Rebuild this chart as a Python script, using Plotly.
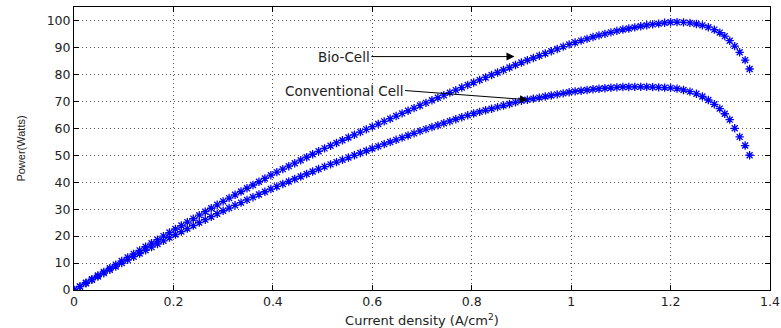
import plotly.graph_objects as go

# Current density (A/cm^2) sample points, shared by both series
current_density = [
    0.000, 0.012, 0.024, 0.036, 0.048, 0.060, 0.072, 0.084, 0.096, 0.108,
    0.120, 0.132, 0.144, 0.156, 0.168, 0.180, 0.192, 0.204, 0.216, 0.228,
    0.240, 0.252, 0.264, 0.276, 0.288, 0.300, 0.312, 0.324, 0.336, 0.348,
    0.360, 0.372, 0.384, 0.396, 0.408, 0.420, 0.432, 0.444, 0.456, 0.468,
    0.480, 0.492, 0.504, 0.516, 0.528, 0.540, 0.552, 0.564, 0.576, 0.588,
    0.600, 0.612, 0.624, 0.636, 0.648, 0.660, 0.672, 0.684, 0.696, 0.708,
    0.720, 0.732, 0.744, 0.756, 0.768, 0.780, 0.792, 0.804, 0.816, 0.828,
    0.840, 0.852, 0.864, 0.876, 0.888, 0.900, 0.912, 0.924, 0.936, 0.948,
    0.960, 0.972, 0.984, 0.996, 1.008, 1.020, 1.032, 1.044, 1.056, 1.068,
    1.080, 1.092, 1.104, 1.116, 1.128, 1.140, 1.152, 1.164, 1.176, 1.188,
    1.200, 1.213, 1.226, 1.239, 1.252, 1.264, 1.276, 1.288, 1.299, 1.309,
    1.319, 1.329, 1.339, 1.350, 1.359,
]

# Power (Watts) - Bio-Cell
power_bio = [
    0.00, 1.34, 2.69, 4.03, 5.38, 6.72, 8.06, 9.41, 10.75, 12.08,
    13.40, 14.72, 16.04, 17.36, 18.68, 20.00, 21.32, 22.63, 23.91, 25.20,
    26.48, 27.76, 29.05, 30.33, 31.62, 32.90, 34.11, 35.32, 36.54, 37.75,
    38.96, 40.17, 41.38, 42.60, 43.74, 44.84, 45.94, 47.05, 48.15, 49.26,
    50.36, 51.46, 52.54, 53.54, 54.55, 55.56, 56.57, 57.58, 58.58, 59.59,
    60.60, 61.58, 62.57, 63.55, 64.54, 65.52, 66.50, 67.49, 68.47, 69.43,
    70.38, 71.33, 72.28, 73.22, 74.17, 75.12, 76.07, 77.01, 77.93, 78.86,
    79.78, 80.70, 81.63, 82.55, 83.48, 84.40, 85.24, 86.08, 86.92, 87.76,
    88.60, 89.44, 90.28, 91.12, 91.85, 92.52, 93.19, 93.86, 94.48, 95.03,
    95.58, 96.13, 96.64, 97.04, 97.45, 97.86, 98.25, 98.54, 98.82, 99.13,
    99.35, 99.40, 99.30, 99.10, 98.70, 98.20, 97.50, 96.60, 95.50, 94.20,
    92.50, 90.50, 88.20, 85.30, 82.00,
]

# Power (Watts) - Conventional Cell
power_conventional = [
    0.00, 1.25, 2.50, 3.74, 4.99, 6.24, 7.49, 8.74, 9.98, 11.18,
    12.36, 13.54, 14.71, 15.89, 17.06, 18.24, 19.42, 20.57, 21.67, 22.78,
    23.88, 24.98, 26.09, 27.19, 28.30, 29.40, 30.41, 31.42, 32.42, 33.43,
    34.44, 35.45, 36.46, 37.46, 38.42, 39.34, 40.26, 41.19, 42.11, 43.04,
    43.96, 44.88, 45.78, 46.62, 47.46, 48.30, 49.14, 49.98, 50.82, 51.66,
    52.50, 53.30, 54.11, 54.91, 55.72, 56.52, 57.32, 58.13, 58.93, 59.69,
    60.42, 61.15, 61.88, 62.62, 63.35, 64.08, 64.81, 65.50, 66.08, 66.67,
    67.26, 67.85, 68.44, 69.02, 69.61, 70.20, 70.60, 70.99, 71.39, 71.78,
    72.18, 72.58, 72.97, 73.37, 73.68, 73.94, 74.20, 74.47, 74.68, 74.85,
    75.02, 75.19, 75.31, 75.33, 75.36, 75.38, 75.38, 75.29, 75.19, 75.10,
    75.00, 74.70, 74.20, 73.60, 72.80, 71.80, 70.50, 68.90, 67.30, 65.40,
    63.20, 60.00, 56.80, 53.60, 50.00,
]

x_ticks = [0, 0.2, 0.4, 0.6, 0.8, 1.0, 1.2, 1.4]
x_tick_text = ["0", "0.2", "0.4", "0.6", "0.8", "1", "1.2", "1.4"]
y_ticks = [0, 10, 20, 30, 40, 50, 60, 70, 80, 90, 100]

FONT = "DejaVu Sans"

fig = go.Figure()
for name, ys in [("Bio-Cell", power_bio), ("Conventional Cell", power_conventional)]:
    fig.add_trace(go.Scatter(
        x=current_density, y=ys, mode="markers", name=name,
        marker=dict(symbol="asterisk-open", size=7, color="#0000ff",
                    line=dict(color="#0000ff", width=1.3)),
        showlegend=False,
    ))

# Annotations: label text at the arrow tail, arrow head on the curve
fig.add_annotation(x=0.886, y=86.6, ax=0.598, ay=86.6, xref="x", yref="y",
                   axref="x", ayref="y", text="Bio-Cell", showarrow=True,
                   xanchor="right", yanchor="middle", borderpad=0,
                   arrowhead=2, arrowsize=1.6, arrowwidth=1, arrowcolor="black",
                   font=dict(family=FONT, size=13.5, color="#222"))
fig.add_annotation(x=0.913, y=70.6, ax=0.666, ay=74.0, xref="x", yref="y",
                   axref="x", ayref="y", text="Conventional Cell", showarrow=True,
                   xanchor="right", yanchor="middle", borderpad=0,
                   arrowhead=2, arrowsize=1.6, arrowwidth=1, arrowcolor="black",
                   font=dict(family=FONT, size=13.5, color="#222"))

axis_common = dict(
    showline=True, linecolor="black", linewidth=1, mirror="ticks",
    ticks="inside", ticklen=5, tickcolor="black",
    showgrid=True, gridcolor="#555", griddash="1px,3px", gridwidth=1,
    zeroline=False, automargin=False,
    tickfont=dict(family=FONT, size=12.5, color="#222"),
)

fig.update_xaxes(range=[0, 1.4], tickvals=x_ticks, ticktext=x_tick_text,
                 title=dict(text="Current density (A/cm<sup>2</sup>)",
                            font=dict(family=FONT, size=13, color="#222"),
                            standoff=10),
                 **axis_common)
fig.update_yaxes(range=[0, 105], tickvals=y_ticks,
                 title=dict(text="Power(Watts)",
                            font=dict(family="Liberation Sans", size=11, color="#222"),
                            standoff=18),
                 **axis_common)

fig.update_layout(
    width=781, height=328,
    margin=dict(l=74, r=11, t=7, b=38),
    paper_bgcolor="white", plot_bgcolor="white",
)

fig.write_html("out.html")
